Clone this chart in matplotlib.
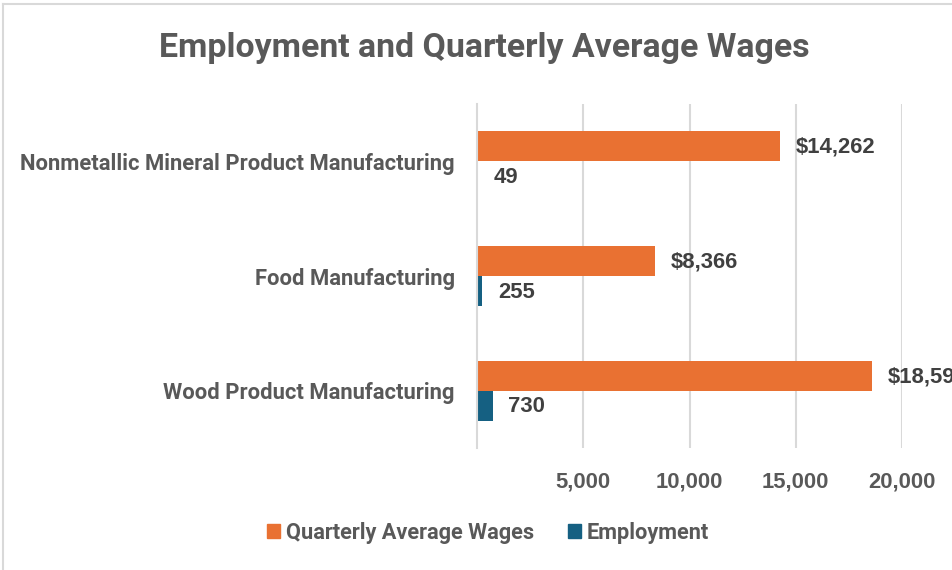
import matplotlib
matplotlib.use("Agg")
import matplotlib.pyplot as plt
from matplotlib.patches import Patch
from matplotlib.lines import Line2D
from matplotlib.font_manager import FontProperties
from matplotlib.textpath import TextPath
import numpy as np

categories = ["Nonmetallic Mineral Product Manufacturing", "Food Manufacturing", "Wood Product Manufacturing"]
wages = [14262, 8366, 18591]
employment = [49, 255, 730]
xticks = [5000, 10000, 15000, 20000]

orange = "#E97132"
blue = "#156082"
grey = "#595959"
dark = "#404040"
sans = ["Roboto", "DejaVu Sans"]
arial = ["Liberation Sans", "DejaVu Sans"]


def fit(text, target_px, family):
    # font size (pt) that makes the ink width of text about target_px at 100 dpi
    prop = FontProperties(family=family, weight="bold", size=100)
    w = TextPath((0, 0), text, prop=prop).get_extents().width
    return 100 * target_px / (w * 100 / 72)


title_fs = fit("Employment and Quarterly Average Wages", 648, sans)
cat_fs = fit(categories[0], 433, sans)
leg_fs = fit("Quarterly Average Wages", 247, sans)
val_fs = fit("$14,262", 79, arial)
tick_fs = fit("10,000", 65, arial)

fig = plt.figure(figsize=(9.53, 5.70), dpi=100)
ax = fig.add_axes([477/953, 1-448/570, (902-477)/953, (448-104)/570])

y = np.arange(len(categories))
h = 0.262
ax.barh(y - h/2, wages, height=h, color=orange, label="Quarterly Average Wages")
ax.barh(y + h/2, employment, height=h, color=blue, label="Employment")

for i in range(len(categories)):
    ax.text(wages[i] + 750, y[i] - h/2 + 0.01, "${:,}".format(wages[i]), va="center", ha="left",
            fontsize=val_fs, fontweight="bold", color=dark, family=arial, clip_on=False)
    ax.text(employment[i] + 750, y[i] + h/2 + 0.01, "{:,}".format(employment[i]), va="center", ha="left",
            fontsize=val_fs, fontweight="bold", color=dark, family=arial, clip_on=False)

ax.set_xlim(0, 20000)
ax.set_ylim(len(categories) - 0.5, -0.5)
ax.set_xticks(xticks)
ax.set_xticklabels(["{:,}".format(v) for v in xticks], fontsize=tick_fs, fontweight="bold", color=grey, family=arial)
ax.set_yticks(y)
ax.set_yticklabels(categories, fontsize=cat_fs, fontweight="bold", color=grey, family=sans)
ax.tick_params(axis="x", length=0, pad=17)
ax.tick_params(axis="y", length=0, pad=16)
ax.grid(axis="x", color="#D9D9D9", linewidth=1.5)
ax.set_axisbelow(True)
for s in ["top", "right", "bottom"]:
    ax.spines[s].set_visible(False)
ax.spines["left"].set_color("#D9D9D9")
ax.spines["left"].set_linewidth(1.5)

fig.text(484/953, 1-48/570, "Employment and Quarterly Average Wages", ha="center", va="center",
         fontsize=title_fs, fontweight="bold", color=grey, family=sans)

leg_px = leg_fs * 100 / 72
handles = [Patch(color=orange, label="Quarterly Average Wages"), Patch(color=blue, label="Employment")]
leg = fig.legend(handles=handles, loc="center", bbox_to_anchor=(488/953, 1-533/570), ncol=2,
                 frameon=False, handlelength=13/leg_px, handleheight=13/leg_px,
                 handletextpad=6/leg_px, columnspacing=34/leg_px,
                 prop={"family": sans, "weight": "bold", "size": leg_fs})
for t in leg.get_texts():
    t.set_color(grey)

fig.add_artist(Line2D([3/953, 3/953], [0, 1-4/570], color="#D9D9D9", linewidth=1.5, transform=fig.transFigure))
fig.add_artist(Line2D([3/953, 1], [1-4/570, 1-4/570], color="#D9D9D9", linewidth=1.5, transform=fig.transFigure))

fig.savefig("out.png", dpi=100)
